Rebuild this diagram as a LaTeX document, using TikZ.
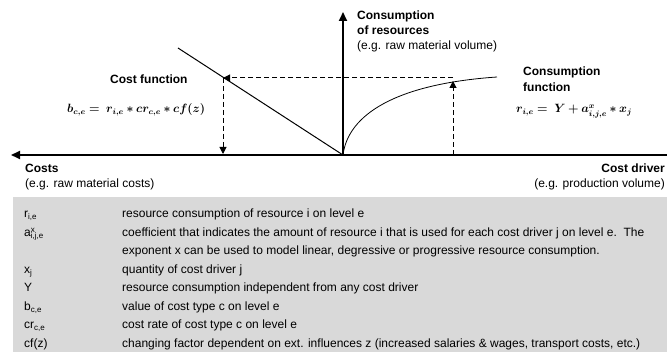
\documentclass[tikz,border=0pt]{standalone}
\usepackage{amsmath,amssymb,bm}
\usepackage{fontspec}
\setmainfont{Liberation Sans}
\usetikzlibrary{arrows.meta,positioning}
\definecolor{tablegray}{RGB}{217,217,217}

\begin{document}
\begin{tikzpicture}[x=1pt, y=-1pt, every node/.style={inner sep=0pt}]

\tikzstyle{axis}=[line width=1.8pt, -{Triangle[length=9pt,width=8pt]}]
\tikzstyle{helper}=[dash pattern=on 5pt off 3pt, line width=1pt, -{Triangle[length=7pt,width=7pt]}]
\tikzstyle{head}=[font=\fontsize{12}{15}\selectfont\bfseries, anchor=base west]
\tikzstyle{note}=[font=\fontsize{12}{15}\selectfont, anchor=base west]
\tikzstyle{formula}=[font=\fontsize{12}{15}\selectfont, anchor=base west]
%%	\tikzstyle{row}=[font=\fontsize{12}{15}\selectfont, anchor=base west]

\useasboundingbox (0,0) rectangle (667,352);
\fill[tablegray] (13,197) rectangle (667,352);

\coordinate (o) at (343,155);
\coordinate (xl) at (11,155);
\coordinate (xr) at (667,155);
\coordinate (yt) at (343,12);

\coordinate (c0) at (178,48);
\coordinate (cp) at (223,78);
\coordinate (cx) at (223,154);
\coordinate (rq) at (453,78);
\coordinate (rp) at (453,81);
\coordinate (rx) at (453,155);
\coordinate (r1) at (497,77);

\draw [axis] (xr) -- (xl);
\draw [axis] (o) -- (yt);

\draw [line width=1pt] (c0) -- (o);
\draw [line width=0.8pt] (o) .. controls (348,115) and (395,84) .. (r1);

\draw [helper] (rq) -- (cp);
\draw [helper] (cp) -- (cx);
\draw [helper] (rx) -- (rp);

\node [head] (cons) at (357,20) {Consumption};
\node [head] (ofres) at (357,35) {of resources};
\node [note] (volume) at (357,50) {(e.g. raw material volume)};

\node [head] (costfn) at (110,84) {Cost function};
\node [formula] (bform) at (67,113) {$\boldsymbol{b_{c,e} =\; r_{i,e} \ast cr_{c,e} \ast cf(z)}$};

\node [head] (consfn) at (523,76) {Consumption};
\node [head] (fn) at (523,92) {function};
\node [formula] (rform) at (516,113) {$\boldsymbol{r_{i,e} =\; Y + a^{x}_{i,j,e} \ast x_j}$};

\node [head] (costs) at (25,173) {Costs};
\node [note] (rawcost) at (25,188) {(e.g. raw material costs)};
\node [head, anchor=base east] (driver) at (665,173) {Cost driver};
\node [note, anchor=base east] (prodvol) at (665,188) {(e.g. production volume)};

\node [note] (s1) at (24,218) {r\textsubscript{i,e}};
\node [note] (s2) at (24,236.5) {a\rlap{\textsuperscript{x}}\textsubscript{i,j,e}};
\node [note] (s3) at (24,273.5) {x\textsubscript{j}};
\node [note] (s4) at (24,292) {Y};
\node [note] (s5) at (24,310.5) {b\textsubscript{c,e}};
\node [note] (s6) at (24,329) {cr\textsubscript{c,e}};
\node [note] (s7) at (24,347.5) {cf(z)};

\node [note] (d1) at (122,218) {resource consumption of resource i on level e};
\node [note] (d2) at (122,236.5) {coefficient that indicates the amount of resource i that is used for each cost driver j on level e.\ \ The};
\node [note] (d2b) at (122,255) {exponent x can be used to model linear, degressive or progressive resource consumption.};
\node [note] (d3) at (122,273.5) {quantity of cost driver j};
\node [note] (d4) at (122,292) {resource consumption independent from any cost driver};
\node [note] (d5) at (122,310.5) {value of cost type c on level e};
\node [note] (d6) at (122,329) {cost rate of cost type c on level e};
\node [note] (d7) at (122,347.5) {changing factor dependent on ext. influences z (increased salaries \& wages, transport costs, etc.)};

\end{tikzpicture}
\end{document}
